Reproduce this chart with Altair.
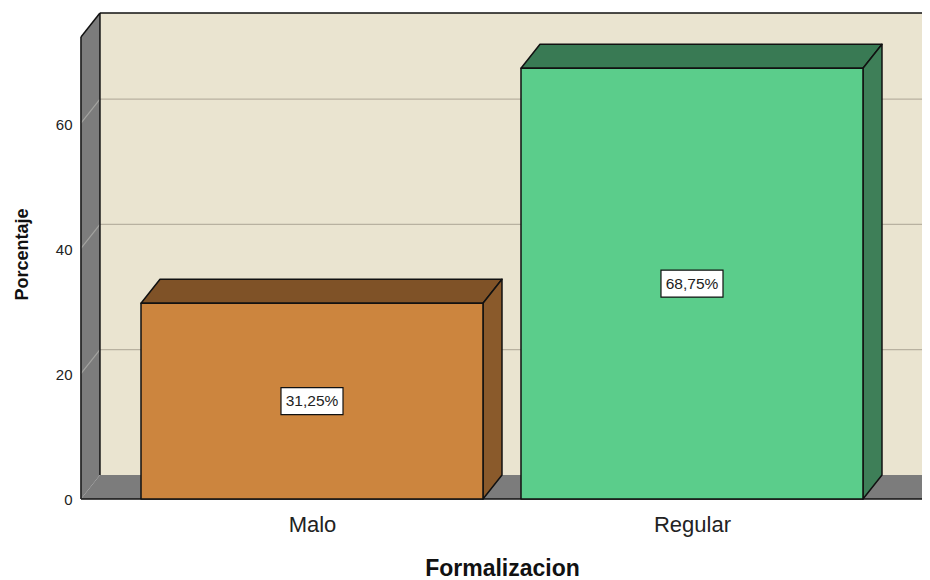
import altair as alt
import pandas as pd

categories = ["Malo", "Regular"]
cat_pos = [0, 1]
percent = [31.25, 68.75]
labels = ["31,25%", "68,75%"]
y_ticks = [0, 20, 40, 60]
grid_values = [20, 40, 60]

front = ["#CC853E", "#5BCD8B"]
top = ["#7F5227", "#397A54"]
side = ["#8A5A2B", "#3E7F58"]
WALL = "#EAE4D0"
GREY = "#7C7C7C"
FLOOR = "#7C7C7C"
EDGE = "#111111"
GRID = "#B8B1A0"
GRID_SIDE = "#A3A3A0"

# extents in data units
half = 0.45
dx = 0.05
dy = 3.83
xl, xr = -0.608, 1.613
wall_top = 73.74
x_dom = [-0.6158, 1.6053]
y_dom = [-0.48, 77.89]

x_enc = alt.X("x:Q", scale=alt.Scale(domain=x_dom, nice=False, zero=False),
              axis=alt.Axis(values=cat_pos, grid=False, domain=False, ticks=False,
                            labelExpr="datum.value == 0 ? 'Malo' : 'Regular'",
                            labelFont="Liberation Sans", labelFontSize=22, labelColor="#222222",
                            labelPadding=12, labelAngle=0,
                            title="Formalizacion", titleFont="Liberation Sans", titleFontSize=23,
                            titleFontWeight="bold", titleColor="#111111", titlePadding=22,
                            titleX=424))
y_enc = alt.Y("y:Q", scale=alt.Scale(domain=y_dom, nice=False, zero=False),
              axis=alt.Axis(values=y_ticks, grid=False, domain=False, ticks=False,
                            labelFont="Liberation Sans", labelFontSize=15, labelColor="#222222",
                            labelPadding=6, labelOffset=1,
                            title="Porcentaje", titleFont="Liberation Sans", titleFontSize=18,
                            titleFontWeight="bold", titleColor="#111111", titlePadding=24,
                            titleY=243))


def face(xs, ys, y2s, fill, stroke=EDGE, width=1.5):
    df = pd.DataFrame({"x": xs, "y": ys, "y2": y2s})
    kw = dict(stroke=stroke, strokeWidth=width, strokeJoin="round") if stroke else dict(strokeWidth=0)
    return alt.Chart(df).mark_area(fill=fill, clip=True, opacity=1, **kw).encode(
        x=x_enc, y=y_enc, y2="y2:Q")


def line(xs, ys, color=EDGE, width=1.5):
    df = pd.DataFrame({"x": xs, "y": ys})
    return alt.Chart(df).mark_line(color=color, strokeWidth=width, clip=True).encode(x=x_enc, y=y_enc)


layers = []
# back wall
layers.append(face([xl + dx, xr + dx], [dy, dy], [wall_top + dy, wall_top + dy], WALL, stroke=None))
for v in grid_values:
    layers.append(line([xl + dx, xr + dx], [v + dy, v + dy], GRID, 1.2))
layers.append(line([xl + dx, xr + dx], [wall_top + dy, wall_top + dy], EDGE, 1.5))
# left wall
layers.append(face([xl, xl + dx], [0, dy], [wall_top, wall_top + dy], GREY, stroke=None))
for v in grid_values:
    layers.append(line([xl, xl + dx], [v, v + dy], GRID_SIDE, 1.2))
layers.append(line([xl, xl], [0, wall_top]))
layers.append(line([xl + dx, xl + dx], [dy, wall_top + dy]))
layers.append(line([xl, xl + dx], [wall_top, wall_top + dy]))
# floor
layers.append(face([xl, xl + dx, xr, xr + dx], [0, 0, 0, dy], [0, dy, dy, dy], FLOOR, stroke=None))
layers.append(line([xl, xr], [0, 0]))
# bars
for c, h, f, t, s in zip(cat_pos, percent, front, top, side):
    x0, x1 = c - half, c + half
    layers.append(face([x0, x0 + dx, x1, x1 + dx], [h, h, h, h + dy], [h, h + dy, h + dy, h + dy], t))
    layers.append(face([x1, x1 + dx], [0, dy], [h, h + dy], s))
    layers.append(face([x0, x1], [0, 0], [h, h], f))

# value labels
rows = pd.DataFrame({
    "x": [c - 0.0816 for c in cat_pos],
    "x2": [c + 0.0816 for c in cat_pos],
    "y": [p / 2 - 2.15 for p in percent],
    "y2": [p / 2 + 2.15 for p in percent],
})
layers.append(alt.Chart(rows).mark_rect(fill="white", stroke=EDGE, strokeWidth=1.2).encode(
    x=x_enc, x2="x2:Q", y=y_enc, y2="y2:Q"))
texts = pd.DataFrame({"x": cat_pos, "y": [p / 2 for p in percent], "t": labels})
layers.append(alt.Chart(texts).mark_text(font="Liberation Sans", fontSize=15.5, color="#222222",
                                         align="center", baseline="middle").encode(
    x=x_enc, y=y_enc, text="t:N"))

chart = alt.layer(*layers).properties(
    width=844, height=491,
    padding={"left": 70, "top": 3, "right": 0, "bottom": 78},
    autosize=alt.AutoSizeParams(type="none"),
    background="white",
).configure_view(stroke=None)

chart.save("out.html", embed_options={"renderer": "svg", "actions": False})
